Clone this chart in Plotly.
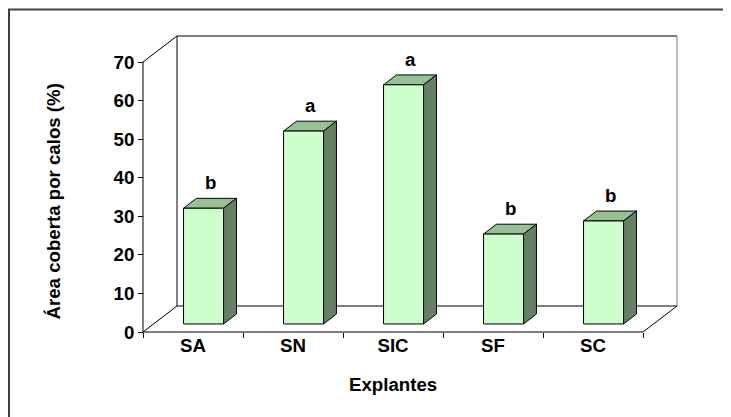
import plotly.graph_objects as go

# ---------------- data ----------------
categories = ["SA", "SN", "SIC", "SF", "SC"]
values = [30, 50, 62, 23.3, 26.7]
letters = ["b", "a", "a", "b", "b"]
y_ticks = [0, 10, 20, 30, 40, 50, 60, 70]
y_title = "Área coberta por calos (%)"
x_title = "Explantes"

# ---------------- layout geometry (style) ----------------
PAGE_OFF = 8                      # browser body margin
W, H = 731 - PAGE_OFF, 417 - PAGE_OFF
ML, MR, MT, MB = 125, 30, 19, 73
X_PPU = 100.0            # px per category unit
Y_PPU = 270.0 / 70.0     # px per value unit
X0_PX, Y0_PX = 143.0 - PAGE_OFF, 332.0 - PAGE_OFF   # front axes origin (figure px)
PW, PH = W - ML - MR, H - MT - MB

x_range = [(ML - X0_PX) / X_PPU, (W - MR - X0_PX) / X_PPU]
y_range = [(Y0_PX - (H - MB)) / Y_PPU, (Y0_PX - MT) / Y_PPU]

DX = 34.0 / X_PPU   # full depth offset in x units
DY = 26.0 / Y_PPU   # full depth offset in value units
F0, F1 = 0.31, 0.69  # bar depth span (fraction of depth)
BAR_W = 0.40
YMAX = max(y_ticks)
N = len(categories)

FRONT = "#CCFFCC"
TOP = "#99BF99"
SIDE = "#668066"
FONT = "Arial, Liberation Sans, sans-serif"
FS = 18.67

def px2paper_x(px):
    return (px - PAGE_OFF - ML) / PW

def px2paper_y(py):
    return (H - MB - (py - PAGE_OFF)) / PH

fig = go.Figure()

def line(xs, ys, color="black", width=1):
    fig.add_trace(go.Scatter(x=xs, y=ys, mode="lines",
                             line=dict(color=color, width=width),
                             hoverinfo="skip", showlegend=False))

def poly(xs, ys, fill):
    fig.add_trace(go.Scatter(x=xs + [xs[0]], y=ys + [ys[0]], mode="lines",
                             fill="toself", fillcolor=fill,
                             line=dict(color="black", width=1),
                             hoverinfo="skip", showlegend=False))

# walls and floor
line([DX, DX + N], [DY + YMAX, DY + YMAX])               # back top
line([DX, DX], [DY, DY + YMAX])                           # back left
line([DX + N, DX + N], [DY, DY + YMAX], color="#808080")  # back right
line([DX, DX + N], [DY, DY])                              # back floor
line([0, DX], [0, DY])                                    # floor left diag
line([N, N + DX], [0, DY])                                # floor right diag
line([0, N], [0, 0])                                      # front floor
line([0, 0], [0, YMAX])                                   # front y axis
line([0, DX], [YMAX, YMAX + DY])                          # top-left diag

# bars
b = F0 * DY
bdx = (F1 - F0) * DX
bdy = (F1 - F0) * DY
for i, v in enumerate(values):
    x0 = i + 0.5 - BAR_W / 2 + F0 * DX
    x1 = x0 + BAR_W
    top = v + b
    poly([x0, x0 + bdx, x1 + bdx, x1], [top, top + bdy, top + bdy, top], TOP)
    poly([x1, x1 + bdx, x1 + bdx, x1], [b, b + bdy, top + bdy, top], SIDE)
    poly([x0, x1, x1, x0], [b, b, top, top], FRONT)
    fig.add_annotation(x=x0 + (BAR_W + bdx) / 2, y=top + bdy, text=letters[i],
                       showarrow=False, yanchor="bottom", yshift=3,
                       font=dict(family=FONT, size=FS, color="black", weight="bold"))

# titles
fig.add_annotation(x=N / 2, xref="x", y=px2paper_y(397), yref="paper",
                   text=x_title, showarrow=False,
                   font=dict(family=FONT, size=FS, color="black", weight="bold"))
fig.add_annotation(x=px2paper_x(40), xref="paper", y=px2paper_y(202), yref="paper",
                   text=y_title, textangle=-90, showarrow=False,
                   font=dict(family=FONT, size=FS, color="black", weight="bold"))

# outer frame
fig.add_shape(type="rect", xref="paper", yref="paper",
              x0=px2paper_x(PAGE_OFF + 1), x1=px2paper_x(760),
              y0=px2paper_y(450), y1=px2paper_y(PAGE_OFF + 1.5),
              line=dict(color="#404040", width=2), fillcolor="rgba(0,0,0,0)")

fig.update_layout(
    width=W, height=H,
    margin=dict(l=ML, r=MR, t=MT, b=MB, autoexpand=False),
    paper_bgcolor="white", plot_bgcolor="white",
    showlegend=False,
    xaxis=dict(range=x_range, anchor="free",
               position=(H - MB - Y0_PX) / PH,
               tickmode="array",
               tickvals=[i + 0.5 for i in range(N)], ticktext=categories,
               ticks="", showline=False, showgrid=False, zeroline=False,
               minor=dict(tickmode="array", tickvals=list(range(N + 1)),
                          ticks="outside", ticklen=5, tickcolor="black",
                          showgrid=False),
               tickfont=dict(family=FONT, size=FS, color="black", weight="bold"),
               fixedrange=True),
    yaxis=dict(range=y_range, anchor="free",
               position=(X0_PX - ML) / PW,
               tickmode="array", tickvals=y_ticks,
               ticks="outside", ticklen=5, tickcolor="black",
               showline=False, showgrid=False, zeroline=False,
               tickfont=dict(family=FONT, size=FS, color="black", weight="bold"),
               fixedrange=True),
)

fig.write_html("out.html")
